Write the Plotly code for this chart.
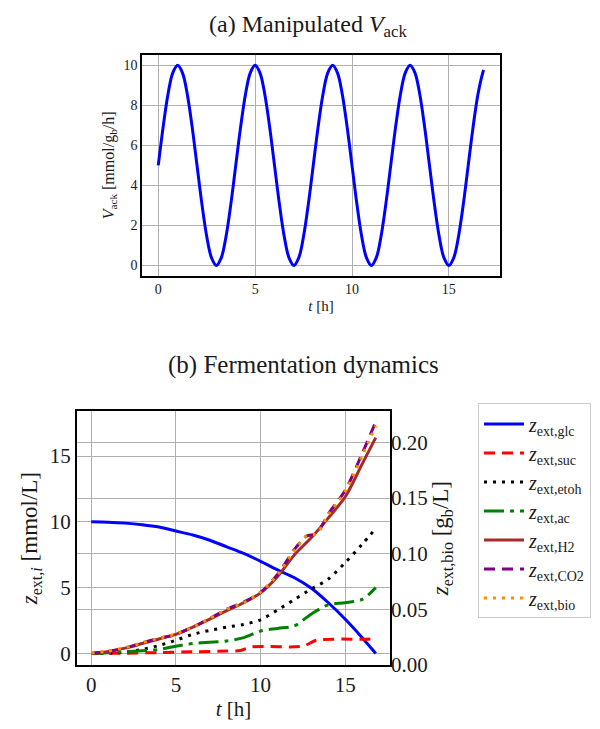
import plotly.graph_objects as go

# ---------- data (a) ----------
t_ack = [0.0, 0.25, 0.5, 0.75, 1.0, 1.25, 1.5, 1.75, 2.0, 2.25, 2.5, 2.75, 3.0, 3.25, 3.5, 3.75,
         4.0, 4.25, 4.5, 4.75, 5.0, 5.25, 5.5, 5.75, 6.0, 6.25, 6.5, 6.75, 7.0, 7.25, 7.5, 7.75,
         8.0, 8.25, 8.5, 8.75, 9.0, 9.25, 9.5, 9.75, 10.0, 10.25, 10.5, 10.75, 11.0, 11.25, 11.5, 11.75,
         12.0, 12.25, 12.5, 12.75, 13.0, 13.25, 13.5, 13.75, 14.0, 14.25, 14.5, 14.75, 15.0, 15.25, 15.5, 15.75,
         16.0, 16.25, 16.5, 16.75, 16.8]
v_ack = [5.0, 6.91, 8.54, 9.62, 10.0, 9.62, 8.54, 6.91, 5.0, 3.09, 1.46, 0.38, 0.0, 0.38, 1.46, 3.09,
         5.0, 6.91, 8.54, 9.62, 10.0, 9.62, 8.54, 6.91, 5.0, 3.09, 1.46, 0.38, 0.0, 0.38, 1.46, 3.09,
         5.0, 6.91, 8.54, 9.62, 10.0, 9.62, 8.54, 6.91, 5.0, 3.09, 1.46, 0.38, 0.0, 0.38, 1.46, 3.09,
         5.0, 6.91, 8.54, 9.62, 10.0, 9.62, 8.54, 6.91, 5.0, 3.09, 1.46, 0.38, 0.0, 0.38, 1.46, 3.09,
         5.0, 6.91, 8.54, 9.62, 9.76]

# ---------- data (b) ----------
t_glc = [0, 1, 2, 3, 4, 5, 6, 7, 8, 9, 10, 11, 12, 13, 14, 15, 16, 16.8]
z_glc = [10.0, 9.97, 9.9, 9.78, 9.6, 9.3, 9.0, 8.6, 8.1, 7.6, 7.0, 6.35, 5.75, 4.95, 3.85, 2.6, 1.2, 0.0]

t_suc = [0, 2, 4, 6, 8, 8.8, 9.5, 12.5, 13.3, 16, 16.5, 16.8]
z_suc = [0.0, 0.02, 0.06, 0.12, 0.18, 0.22, 0.5, 0.55, 1.0, 1.08, 1.1, 1.2]

t_etoh = [0, 1, 2, 3, 4, 5, 6, 7, 8, 9, 10, 11, 12, 13, 14, 15, 16, 16.8]
z_etoh = [0.0, 0.02, 0.1, 0.3, 0.6, 1.0, 1.45, 1.75, 2.0, 2.2, 2.55, 3.3, 4.1, 4.9, 5.65, 6.9, 8.3, 9.5]

t_ac = [0, 1, 2, 3, 4, 5, 6, 7, 8, 9, 10, 11, 12, 13, 14, 15, 16, 16.8]
z_ac = [0.0, 0.05, 0.12, 0.2, 0.3, 0.55, 0.75, 0.85, 0.95, 1.2, 1.7, 1.9, 2.1, 3.0, 3.7, 3.85, 4.1, 5.0]

t_h2 = [0, 1, 2, 3, 4, 5, 6, 7, 8, 9, 10, 11, 12, 13, 14, 15, 16, 16.8]
z_h2 = [0.0, 0.15, 0.4, 0.75, 1.1, 1.45, 2.0, 2.6, 3.25, 3.85, 4.6, 5.85, 7.5, 8.8, 10.3, 11.9, 14.4, 16.4]

t_co2 = [0, 1, 2, 3, 4, 5, 6, 7, 8, 9, 10, 11, 12, 12.7, 13.3, 14, 15, 16, 16.8]
z_co2 = [0.0, 0.15, 0.42, 0.8, 1.15, 1.45, 2.0, 2.65, 3.35, 3.9, 4.65, 6.0, 7.9, 8.9, 9.1, 10.6, 12.4, 15.2, 17.6]

t_bio = [0, 1, 2, 3, 4, 5, 6, 7, 8, 9, 10, 11, 12, 12.7, 13.3, 14, 15, 16, 16.8]
z_bio = [0.0106, 0.0125, 0.0155, 0.020, 0.024, 0.028, 0.034, 0.042, 0.050, 0.056, 0.0655, 0.081,
         0.103, 0.116, 0.118, 0.135, 0.156, 0.188, 0.215]

FONT = "Liberation Serif"
GRID = "#b0b0b0"
TXT = "#1a1a1a"

fig = go.Figure()

fig.add_trace(go.Scatter(x=t_ack, y=v_ack, mode="lines", line=dict(color="#0000ff", width=3, shape="spline"),
                         showlegend=False, xaxis="x", yaxis="y"))

series = [
    (t_glc, z_glc, "glc", "#0000ff", "solid", "y2"),
    (t_suc, z_suc, "suc", "#ff0000", "11px,7px", "y2"),
    (t_etoh, z_etoh, "etoh", "#000000", "3px,6px", "y2"),
    (t_ac, z_ac, "ac", "#008000", "20px,6px,4px,6px", "y2"),
    (t_h2, z_h2, "H2", "#a52a2a", "solid", "y2"),
    (t_co2, z_co2, "CO2", "#800080", "11px,7px", "y2"),
    (t_bio, z_bio, "bio", "#ff8c00", "3px,6px", "y3"),
]
for i, (tx, zy, name, col, dash, ya) in enumerate(series):
    fig.add_trace(go.Scatter(x=tx, y=zy, mode="lines",
                             name="<i>z</i><sub>ext,%s</sub>" % name,
                             line=dict(color=col, width=3, dash=dash, shape="spline", smoothing=0.8),
                             legendgroup="g%d" % i,
                             xaxis="x2", yaxis=ya))

axis_common = dict(showgrid=True, gridcolor=GRID, gridwidth=1, zeroline=False, showline=True,
                   linecolor="black", mirror=True, ticks="")

fig.update_layout(
    width=600, height=729,
    margin=dict(l=0, r=0, t=0, b=0),
    paper_bgcolor="white", plot_bgcolor="white",
    font=dict(family=FONT, color=TXT),
    xaxis=dict(domain=[134/600, 492/600], range=[-0.84, 17.64], tickvals=[0, 5, 10, 15],
               tickfont=dict(size=14), anchor="y", linewidth=1.5,
               title=dict(text="<i>t</i> [h]", font=dict(size=15), standoff=4), **axis_common),
    yaxis=dict(domain=[1-272/729, 1-48/729], range=[-0.5, 10.5], tickvals=[0, 2, 4, 6, 8, 10],
               tickfont=dict(size=14), anchor="x", linewidth=1.5,
               title=dict(text="<i>V</i><sub>ack</sub> [mmol/g<sub>b</sub>/h]", font=dict(size=16), standoff=5),
               **axis_common),
    xaxis2=dict(domain=[69/600, 382/600], range=[-0.84, 17.64], tickvals=[0, 5, 10, 15],
                tickfont=dict(size=21), anchor="y2", linewidth=2,
                title=dict(text="<i>t</i> [h]", font=dict(size=21), standoff=3), **axis_common),
    yaxis2=dict(domain=[1-668/729, 1-410/729], range=[-0.88, 18.4], tickvals=[0, 5, 10, 15],
                tickfont=dict(size=21), anchor="x2", linewidth=2,
                title=dict(text="<i>z</i><sub>ext,<i>i</i></sub> [mmol/L]", font=dict(size=23), standoff=6),
                **axis_common),
    yaxis3=dict(overlaying="y2", side="right", anchor="x2", range=[0, 0.228],
                tickvals=[0.0, 0.05, 0.10, 0.15, 0.20], ticktext=["0.00", "0.05", "0.10", "0.15", "0.20"],
                tickfont=dict(size=21), showgrid=True, gridcolor=GRID, gridwidth=1, zeroline=False,
                showline=False, ticks="",
                title=dict(text="<i>z</i><sub>ext,bio</sub> [g<sub>b</sub>/L]", font=dict(size=23), standoff=4)),
    legend=dict(x=470/600, y=1-402/729, xanchor="left", yanchor="top", bgcolor="white",
                bordercolor="#cccccc", borderwidth=1, font=dict(size=20, color=TXT),
                traceorder="grouped", tracegroupgap=0, itemwidth=40),
    annotations=[
        dict(text="(a) Manipulated <i>V</i><sub>ack</sub>", x=0.5, y=1-1/729, xref="paper", yref="paper",
             showarrow=False, font=dict(size=24), xanchor="center", yanchor="top"),
        dict(text="(b) Fermentation dynamics", x=295/600, y=1-363/729, xref="paper", yref="paper",
             showarrow=False, font=dict(size=25), xanchor="center", yanchor="middle"),
    ],
)

fig.write_html("out.html")
